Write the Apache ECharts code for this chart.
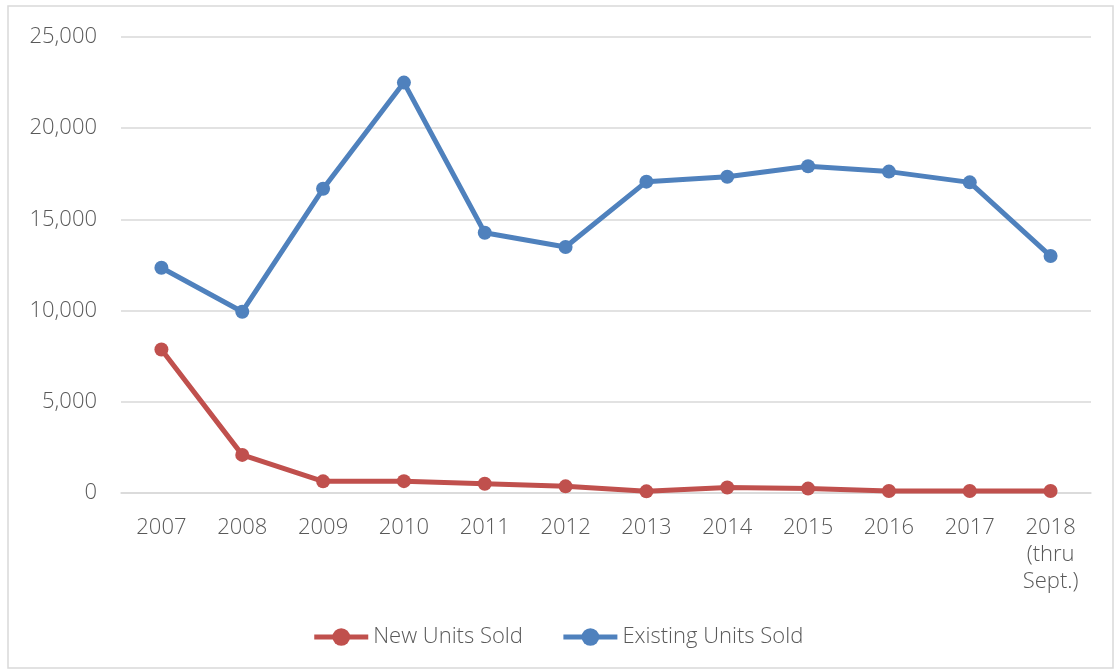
<!DOCTYPE html>
<html>
<head>
<meta charset="utf-8">
<script src="https://cdn.jsdelivr.net/npm/echarts@6/dist/echarts.min.js"></script>
<style>
  html, body { margin: 0; padding: 0; background: #fff; }
  #chart { width: 1115px; height: 671px; }
</style>
</head>
<body>
<div id="chart"></div>
<script>
  // categories (x axis)
  const years = ['2007', '2008', '2009', '2010', '2011', '2012', '2013', '2014', '2015', '2016', '2017', '2018\n(thru\nSept.)']
  // series values
  const newUnits = [7870, 2090, 640, 650, 510, 365, 90, 300, 240, 110, 110, 110]
  const existingUnits = [12350, 9940, 16680, 22500, 14270, 13490, 17070, 17340, 17910, 17620, 17030, 12990]

  const labelColor = '#595959'
  const font = '"Open Sans", sans-serif'

  const chart = echarts.init(document.getElementById('chart'))
  chart.setOption({
    animation: false,
    // thin frame round the whole chart
    graphic: [{
      type: 'rect',
      shape: { x: 8, y: 6, width: 1105, height: 662 },
      style: { fill: 'none', stroke: '#d9d9d9', lineWidth: 1.5 },
      silent: true
    }],
    grid: { left: 121, right: 24, top: 37, bottom: 178 },
    legend: {
      bottom: 18,
      left: 'center',
      itemWidth: 54,
      itemHeight: 22,
      itemGap: 38,
      itemStyle: { borderWidth: 0 },
      lineStyle: { width: 5 },
      textStyle: { color: labelColor, fontSize: 22, fontFamily: font, fontWeight: 300 }
    },
    xAxis: {
      type: 'category',
      data: years,
      boundaryGap: true,
      axisLine: { show: true, lineStyle: { color: '#d9d9d9', width: 1.5 } },
      axisTick: { show: false },
      axisLabel: {
        color: labelColor, fontSize: 22, fontFamily: font, fontWeight: 300,
        margin: 21, lineHeight: 27, interval: 0
      }
    },
    yAxis: {
      type: 'value',
      min: 0,
      max: 25000,
      interval: 5000,
      axisLine: { show: false },
      axisTick: { show: false },
      splitLine: { lineStyle: { color: '#d9d9d9', width: 1.5 } },
      axisLabel: {
        color: labelColor, fontSize: 22, fontFamily: font, fontWeight: 300, margin: 24,
        formatter: v => v.toLocaleString('en-US')
      }
    },
    series: [
      {
        name: 'New Units Sold',
        type: 'line',
        data: newUnits,
        color: '#C0504D',
        symbol: 'circle',
        symbolSize: 14,
        lineStyle: { width: 5 }
      },
      {
        name: 'Existing Units Sold',
        type: 'line',
        data: existingUnits,
        color: '#4F81BD',
        symbol: 'circle',
        symbolSize: 14,
        lineStyle: { width: 5 }
      }
    ]
  })
</script>
</body>
</html>
